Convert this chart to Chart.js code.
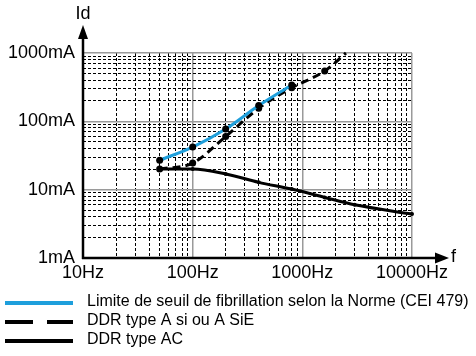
<!DOCTYPE html>
<html>
<head>
<meta charset="utf-8">
<script src="https://cdn.jsdelivr.net/npm/chart.js@4/dist/chart.umd.min.js"></script>
<style>
  html, body { margin: 0; padding: 0; background: #fff; }
  canvas { display: block; }
</style>
</head>
<body>
<canvas id="chart" width="476" height="356"></canvas>
<script>
// values (frequency in Hz, current in mA)
const limitFreq = [50, 100, 200, 400, 800];
const limitCurrent = [27, 42, 77, 170, 340];

const typeAFreq = [50, 100, 200, 400, 800, 1600, 2500];
const typeACurrent = [20, 24.5, 60, 155, 310, 545, 1000];

const typeACFreq = [50, 100, 200, 400, 800, 1600, 3000, 10000];
const typeACCurrent = [20, 20, 17, 12.8, 10.2, 7.7, 6, 4.4];

const seriesLabels = [
  'Limite de seuil de fibrillation selon la Norme (CEI 479)',
  'DDR type A si ou A SiE',
  'DDR type AC'
];

const freqDecades = [10, 100, 1000, 10000];
const freqLabels = ['10Hz', '100Hz', '1000Hz', '10000Hz'];
const currentDecades = [1, 10, 100, 1000];
const currentLabels = ['1mA', '10mA', '100mA', '1000mA'];

const FONT = "'Liberation Sans', Arial, Helvetica, sans-serif";
const BLUE = '#1e9fdc';

const toPoints = (xs, ys) => xs.map((x, i) => ({ x: x, y: ys[i] }));

// 1..9 x each decade, for the grid
function logGrid(decades) {
  const out = [];
  for (let d = 0; d < decades.length - 1; d++) {
    for (let k = 1; k < 10; k++) out.push(k * decades[d]);
  }
  out.push(decades[decades.length - 1]);
  return out;
}

const isDecade = (v, decades) => decades.indexOf(v) >= 0;

function gridOpts(decades) {
  return {
    drawTicks: false,
    color: c => isDecade(c.tick.value, decades) ? '#9a9a9a' : '#000',
    lineWidth: c => isDecade(c.tick.value, decades) ? 1.5 : 1
  };
}

const axesAndLegend = {
  id: 'axesAndLegend',
  afterDraw(chart) {
    const ctx = chart.ctx;
    const a = chart.chartArea;
    ctx.save();
    ctx.fillStyle = '#000';
    ctx.strokeStyle = '#000';
    ctx.lineWidth = 2.5;

    // y axis with arrow
    ctx.beginPath();
    ctx.moveTo(a.left, a.bottom + 1);
    ctx.lineTo(a.left, 38);
    ctx.stroke();
    ctx.beginPath();
    ctx.moveTo(a.left, 25);
    ctx.lineTo(a.left - 5, 39);
    ctx.lineTo(a.left + 5, 39);
    ctx.closePath();
    ctx.fill();

    // x axis with arrow
    ctx.beginPath();
    ctx.moveTo(a.left - 1, a.bottom);
    ctx.lineTo(436, a.bottom);
    ctx.stroke();
    ctx.beginPath();
    ctx.moveTo(449, a.bottom);
    ctx.lineTo(435, a.bottom - 5.5);
    ctx.lineTo(435, a.bottom + 5.5);
    ctx.closePath();
    ctx.fill();

    // axis names
    ctx.font = '18px ' + FONT;
    ctx.textBaseline = 'middle';
    ctx.textAlign = 'center';
    ctx.fillText('Id', a.left, 14);
    ctx.textAlign = 'left';
    ctx.fillText('f', 451, a.bottom - 1);

    // legend, one row per dataset
    const legendDash = [[], [28, 14], []];
    ctx.font = '16px ' + FONT;
    chart.data.datasets.forEach((ds, i) => {
      const y = 303 + i * 19;
      ctx.beginPath();
      ctx.lineWidth = 4;
      ctx.strokeStyle = ds.borderColor;
      ctx.setLineDash(legendDash[i]);
      ctx.moveTo(5, y);
      ctx.lineTo(73, y);
      ctx.stroke();
      ctx.setLineDash([]);
      ctx.fillText(ds.label, 87, y - 1);
    });
    ctx.restore();
  }
};

new Chart(document.getElementById('chart'), {
  type: 'line',
  data: {
    datasets: [
      {
        label: seriesLabels[0],
        data: toPoints(limitFreq, limitCurrent),
        borderColor: BLUE,
        borderWidth: 3,
        pointRadius: 3.5,
        pointBackgroundColor: '#000',
        pointBorderWidth: 0,
        cubicInterpolationMode: 'monotone'
      },
      {
        label: seriesLabels[1],
        data: toPoints(typeAFreq, typeACurrent),
        borderColor: '#000',
        borderWidth: 3,
        borderDash: [8, 5],
        pointRadius: c => c.dataIndex < typeAFreq.length - 1 ? 3.5 : 0,
        pointBackgroundColor: '#000',
        pointBorderWidth: 0,
        cubicInterpolationMode: 'monotone'
      },
      {
        label: seriesLabels[2],
        data: toPoints(typeACFreq, typeACCurrent),
        borderColor: '#000',
        borderWidth: 3,
        pointRadius: 2,
        pointBackgroundColor: '#000',
        pointBorderWidth: 0,
        cubicInterpolationMode: 'monotone'
      }
    ]
  },
  options: {
    responsive: false,
    devicePixelRatio: 1,
    animation: false,
    clip: false,
    layout: { padding: { left: 0, top: 53, right: 64, bottom: 0 } },
    plugins: { legend: { display: false }, tooltip: { enabled: false } },
    scales: {
      x: {
        type: 'logarithmic',
        min: 10,
        max: 10000,
        afterBuildTicks: s => { s.ticks = logGrid(freqDecades).map(v => ({ value: v })); },
        afterFit: s => { s.height = 98; },
        grid: gridOpts(freqDecades),
        border: { display: false, dash: c => isDecade(c.tick.value, freqDecades) ? [] : [3, 2] },
        ticks: {
          autoSkip: false,
          maxRotation: 0,
          padding: 4,
          color: '#000',
          font: { family: FONT, size: 18 },
          callback: v => {
            const i = freqDecades.indexOf(v);
            return i >= 0 ? freqLabels[i] : '';
          }
        }
      },
      y: {
        type: 'logarithmic',
        min: 1,
        max: 1000,
        afterBuildTicks: s => { s.ticks = logGrid(currentDecades).map(v => ({ value: v })); },
        afterFit: s => { s.width = 83; },
        grid: gridOpts(currentDecades),
        border: { display: false, dash: c => isDecade(c.tick.value, currentDecades) ? [] : [3, 2] },
        ticks: {
          autoSkip: false,
          padding: 8,
          color: '#000',
          font: { family: FONT, size: 18 },
          callback: v => {
            const i = currentDecades.indexOf(v);
            return i >= 0 ? currentLabels[i] : '';
          }
        }
      }
    }
  },
  plugins: [axesAndLegend]
});
</script>
</body>
</html>
